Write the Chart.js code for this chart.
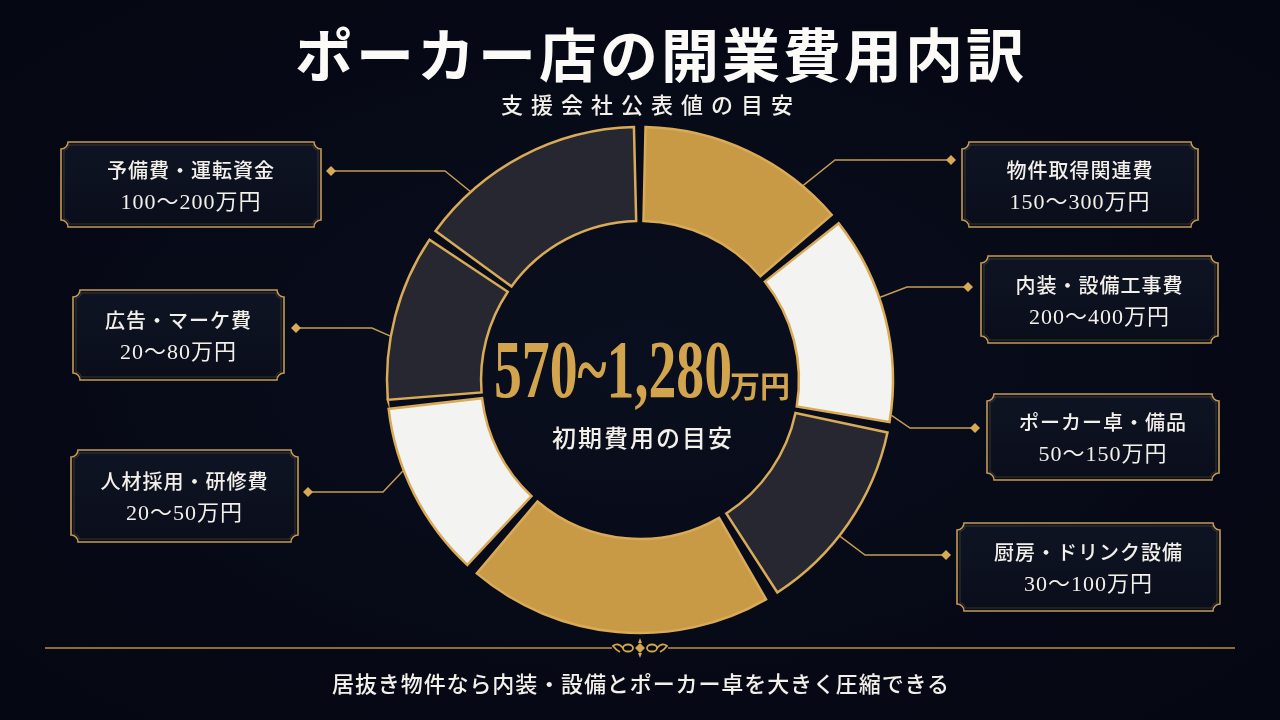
<!DOCTYPE html>
<html lang="ja">
<head>
<meta charset="utf-8">
<title>ポーカー店の開業費用内訳</title>
<script src="https://cdn.jsdelivr.net/npm/chart.js@4.4.1/dist/chart.umd.min.js"></script>
<style>
html,body{margin:0;padding:0;background:#060915;}
#wrap{position:relative;width:1280px;height:720px;overflow:hidden;
  background:radial-gradient(ellipse at 50% 50%, #0a0f1f 0%, #060915 65%, #050812 100%);
  font-family:"Noto Sans CJK JP",sans-serif;color:#f3f0ea;}
#chart{position:absolute;left:0;top:0;}
.c{position:absolute;white-space:nowrap;transform:translate(-50%,-50%);text-align:center;}
#title{left:661px;top:52px;font-size:58px;font-weight:700;letter-spacing:3px;color:#fbfaf6;}
#sub{left:651px;top:103px;font-size:22px;font-weight:500;letter-spacing:8px;}
#total{left:641px;top:370px;display:flex;align-items:baseline;color:#d3a44e;}
#total .num{font-family:"Liberation Serif",serif;font-weight:700;font-size:82px;display:inline-block;
  transform:scaleX(0.68);transform-origin:right center;margin-left:-110px;line-height:1;}
#total .unit{font-size:30px;font-weight:700;line-height:1;margin-left:-2px;}
#totalSub{left:643px;top:436px;font-size:24px;font-weight:500;letter-spacing:2px;}
#foot{left:641px;top:682px;font-size:22px;font-weight:500;letter-spacing:0.9px;}
.lab1{font-size:20px;font-weight:500;letter-spacing:1px;line-height:32px;}
.lab2{font-family:"Liberation Serif","Noto Sans CJK JP",serif;font-size:22px;letter-spacing:1px;line-height:32px;}
</style>
</head>
<body>
<div id="wrap">
  <canvas id="chart" width="1280" height="720"></canvas>
  <div class="c" id="title">ポーカー店の開業費用内訳</div>
  <div class="c" id="sub">支援会社公表値の目安</div>
  <div class="c" id="total"><span class="num">570~1,280</span><span class="unit">万円</span></div>
  <div class="c" id="totalSub">初期費用の目安</div>
  <div class="c" id="foot">居抜き物件なら内装・設備とポーカー卓を大きく圧縮できる</div>
</div>
<script>
// 区分（時計回り、上から）
const categories = ['物件取得関連費', '内装・設備工事費', 'ポーカー卓・備品', '厨房・ドリンク設備', '人材採用・研修費', '広告・マーケ費', '予備費・運転資金'];
const rangeLabels = ['150〜300万円', '200〜400万円', '50〜150万円', '30〜100万円', '20〜50万円', '20〜80万円', '100〜200万円'];
// 円グラフの各区画の大きさ（図から読み取り、度数）
const segmentShare = [50.5, 50.3, 47.5, 73.7, 42.5, 40.2, 55.3];

const GOLD = '#c99a45', WHITE = '#f3f3f2', DARK = '#262731';
const fillColors = [GOLD, WHITE, DARK, GOLD, WHITE, DARK, DARK];

// ラベル枠の配置（x,y,w,h と引き出し線）
const callouts = [
  {box:[962,142,236,85], dx:951, dy:160, elbow:835, ang:40},
  {box:[981,256,237,87], dx:968, dy:287, elbow:907, ang:71},
  {box:[987,394,232,86], dx:975, dy:428, elbow:910, ang:98},
  {box:[957,523,263,88], dx:946, dy:555, elbow:865, ang:128},
  {box:[71,450,227,92],  dx:308, dy:492, elbow:383, ang:249},
  {box:[73,290,211,90],  dx:296, dy:328, elbow:372, ang:280},
  {box:[61,142,260,85],  dx:331, dy:171, elbow:445, ang:318}
];

const wrap = document.getElementById('wrap');
callouts.forEach(function(c, i){
  const d = document.createElement('div');
  d.className = 'c';
  d.style.left = (c.box[0] + c.box[2]/2) + 'px';
  d.style.top = (c.box[1] + c.box[3]/2 + 1) + 'px';
  d.innerHTML = '<div class="lab1">' + categories[i] + '</div><div class="lab2">' + rangeLabels[i] + '</div>';
  wrap.appendChild(d);
});

function framePath(ctx, x, y, w, h, r){
  ctx.beginPath();
  ctx.moveTo(x + r, y);
  ctx.lineTo(x + w - r, y);
  ctx.arc(x + w, y, r, Math.PI, Math.PI/2, true);
  ctx.lineTo(x + w, y + h - r);
  ctx.arc(x + w, y + h, r, Math.PI*1.5, Math.PI, true);
  ctx.lineTo(x + r, y + h);
  ctx.arc(x, y + h, r, 0, -Math.PI/2, true);
  ctx.lineTo(x, y + r);
  ctx.arc(x, y, r, Math.PI/2, 0, true);
  ctx.closePath();
}

function diamond(ctx, x, y, s){
  ctx.beginPath();
  ctx.moveTo(x, y - s); ctx.lineTo(x + s, y); ctx.lineTo(x, y + s); ctx.lineTo(x - s, y);
  ctx.closePath();
  ctx.fill();
}

const decor = {
  id: 'decor',
  beforeDatasetsDraw: function(chart){
    const ctx = chart.ctx;
    const arc = chart.getDatasetMeta(0).data[0];
    const cx = arc.x, cy = arc.y, R = arc.outerRadius;
    ctx.save();
    // 引き出し線
    callouts.forEach(function(c){
      const a = c.ang * Math.PI / 180;
      const px = cx + (R + 11) * Math.sin(a), py = cy - (R + 11) * Math.cos(a);
      ctx.strokeStyle = '#c49c55';
      ctx.fillStyle = '#d8aa55';
      ctx.lineWidth = 1.5;
      ctx.beginPath();
      ctx.moveTo(c.dx, c.dy);
      ctx.lineTo(c.elbow, c.dy);
      ctx.lineTo(px, py);
      ctx.stroke();
      diamond(ctx, c.dx, c.dy, 5);
      // 枠
      const b = c.box;
      framePath(ctx, b[0], b[1], b[2], b[3], 7);
      const g = ctx.createLinearGradient(0, b[1], 0, b[1] + b[3]);
      g.addColorStop(0, '#0f1424'); g.addColorStop(1, '#0a0e1b');
      ctx.fillStyle = g;
      ctx.fill();
      ctx.strokeStyle = '#c49a52';
      ctx.lineWidth = 1.6;
      ctx.stroke();
      framePath(ctx, b[0] + 3, b[1] + 3, b[2] - 6, b[3] - 6, 5);
      ctx.strokeStyle = 'rgba(196,154,82,0.25)';
      ctx.lineWidth = 1;
      ctx.stroke();
    });
    // 下部の区切り線と飾り
    ctx.strokeStyle = '#b98f48';
    ctx.lineWidth = 1.5;
    ctx.beginPath();
    ctx.moveTo(45, 648); ctx.lineTo(612, 648);
    ctx.moveTo(668, 648); ctx.lineTo(1235, 648);
    ctx.stroke();
    ctx.fillStyle = '#d3a64f';
    diamond(ctx, 640, 648, 5);
    ctx.beginPath(); ctx.moveTo(640, 638); ctx.lineTo(642, 643); ctx.lineTo(638, 643); ctx.closePath(); ctx.fill();
    ctx.beginPath(); ctx.moveTo(640, 658); ctx.lineTo(642, 653); ctx.lineTo(638, 653); ctx.closePath(); ctx.fill();
    ctx.lineWidth = 1.8;
    ctx.strokeStyle = '#d3a64f';
    [-1, 1].forEach(function(s){
      ctx.beginPath();
      ctx.ellipse(640 + s*12, 648, 5, 3.5, 0, 0, Math.PI*2);
      ctx.stroke();
      ctx.beginPath();
      ctx.moveTo(640 + s*17, 648);
      ctx.quadraticCurveTo(640 + s*22, 642, 640 + s*27, 646);
      ctx.quadraticCurveTo(640 + s*24, 650, 640 + s*20, 652);
      ctx.stroke();
    });
    ctx.restore();
  }
};

new Chart(document.getElementById('chart'), {
  type: 'doughnut',
  data: {
    labels: categories,
    datasets: [{
      data: segmentShare,
      backgroundColor: fillColors,
      borderColor: '#d9ab57',
      borderWidth: 2.5,
      borderJoinStyle: 'miter',
      spacing: 20,
      hoverOffset: 0
    }]
  },
  options: {
    responsive: false,
    animation: false,
    events: [],
    radius: 243,
    cutout: '61.3%',
    rotation: 0,
    layout: {padding: {top: 40}},
    plugins: {legend: {display: false}, tooltip: {enabled: false}}
  },
  plugins: [decor]
});
</script>
</body>
</html>
